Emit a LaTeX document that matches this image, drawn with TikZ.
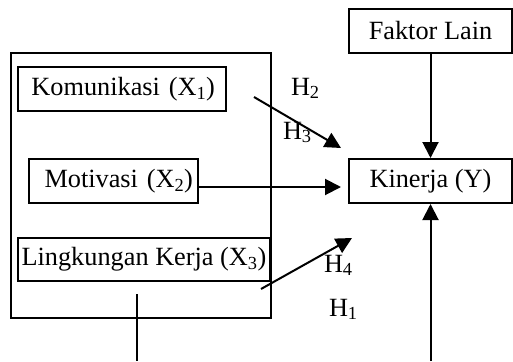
\documentclass[tikz,border=0pt]{standalone}
\usepackage{fontspec}
\setmainfont{Liberation Serif}
\usetikzlibrary{arrows.meta}
\begin{document}
\begin{tikzpicture}[x=1pt,y=-1pt,line width=2pt,
  txt/.style={font=\fontsize{26.3}{30}\selectfont},
  box/.style={draw,rectangle,inner sep=0pt,txt},
  lbl/.style={inner sep=0pt,txt,anchor=base west},
  arr/.style={-{Triangle[length=16pt,width=16pt]}}]
\useasboundingbox (0,0) rectangle (513,361);
% outer group box
\node[draw,rectangle,inner sep=0pt,minimum width=260pt,minimum height=265pt] (grp) at (141,185.5) {};
% variable boxes
\node[box,minimum height=44pt,text width=186pt,inner xsep=11pt,align=right] (kom) at (122,89) {Komunikasi (X\textsubscript{1})};
\node[box,minimum height=44pt,text width=159pt,inner xsep=5pt,align=right] (mot) at (113.5,181) {Motivasi (X\textsubscript{2})};
\node[box,minimum width=252pt,minimum height=43pt] (lin) at (144,259.5) {Lingkungan Kerja (X\textsubscript{3})};
\node[box,minimum width=163pt,minimum height=44pt] (fak) at (430.5,31) {Faktor Lain};
\node[box,minimum width=163pt,minimum height=44pt] (kin) at (430.5,181) {Kinerja (Y)};
% free ends
\coordinate (a1) at (254,97);
\coordinate (a2) at (341,148);
\coordinate (m2) at (341,187);
\coordinate (c1) at (261,289);
\coordinate (c2) at (352,238);
\coordinate (b1) at (kin.south |- 0,361);
\coordinate (g1) at (137,294);
\coordinate (g2) at (137,361);
% connectors
\draw[arr] (a1) -- (a2);
\draw[arr] (mot.east |- m2) -- (m2);
\draw[arr] (c1) -- (c2);
\draw[arr] (fak) -- (kin);
\draw[arr] (b1) -- (kin.south);
\draw (g1) -- (g2);
% labels
\node[lbl] (h2) at (290,95) {H\textsubscript{2}};
\node[lbl] (h3) at (282,139) {H\textsubscript{3}};
\node[lbl] (h4) at (323,272) {H\textsubscript{4}};
\node[lbl] (h1) at (328,316) {H\textsubscript{1}};
\end{tikzpicture}
\end{document}
